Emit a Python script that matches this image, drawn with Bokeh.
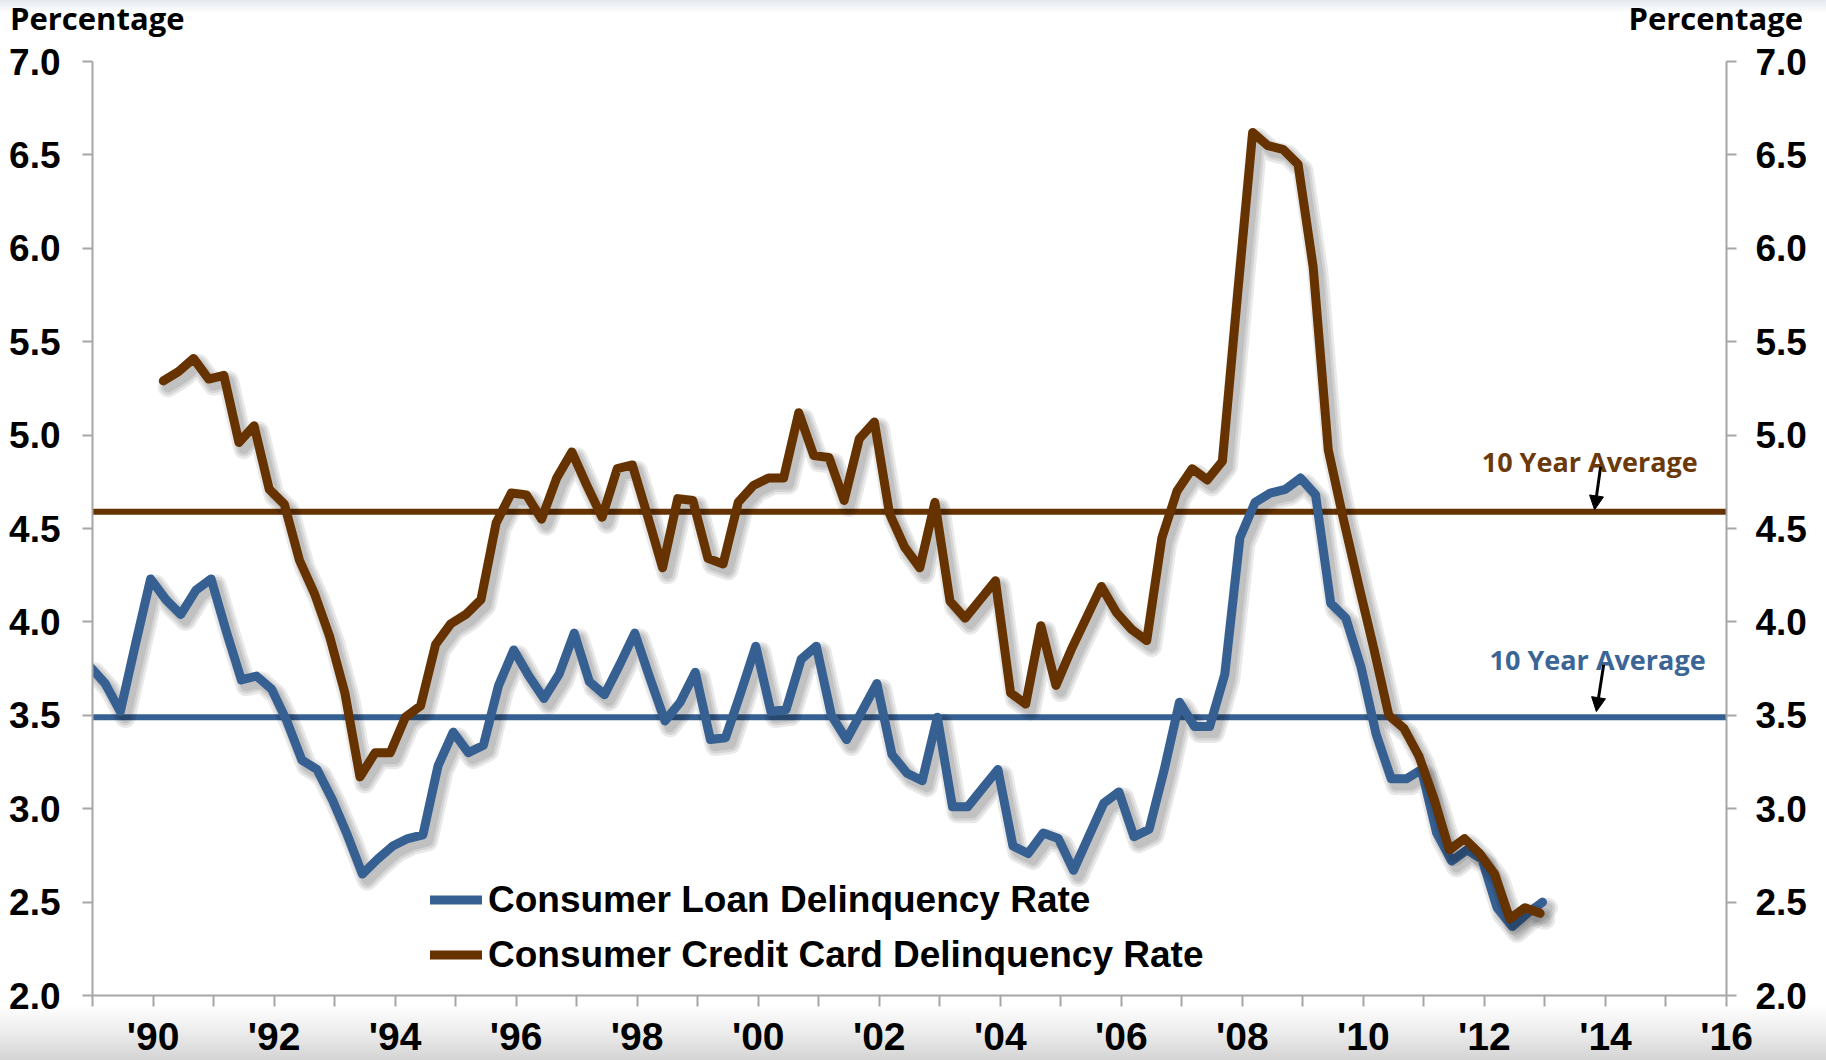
import numpy as np
from bokeh.plotting import figure
from bokeh.layouts import column
from bokeh.models import (Range1d, LinearAxis, FixedTicker, PrintfTickFormatter, Label,
                          Arrow, NormalHead, Legend, LegendItem, ColumnDataSource, Span, Div)
from bokeh.embed import file_html
from bokeh.resources import INLINE

# ---------------- data (quarterly) ----------------
loan_start = 1988.96
loan_rate = [
    3.76, 3.67, 3.52, 3.88,   # 1989
    4.23, 4.12, 4.04, 4.17,   # 1990
    4.23, 3.95, 3.69, 3.71,   # 1991
    3.64, 3.47, 3.26, 3.21,   # 1992
    3.05, 2.86, 2.65, 2.73,   # 1993
    2.80, 2.84, 2.86, 3.23,   # 1994
    3.41, 3.30, 3.34, 3.66,   # 1995
    3.85, 3.71, 3.59, 3.72,   # 1996
    3.94, 3.68, 3.61, 3.77,   # 1997
    3.94, 3.70, 3.47, 3.57,   # 1998
    3.73, 3.37, 3.38, 3.62,   # 1999
    3.87, 3.52, 3.53, 3.80,   # 2000
    3.87, 3.50, 3.37, 3.52,   # 2001
    3.67, 3.29, 3.19, 3.15,   # 2002
    3.49, 3.01, 3.01, 3.11,   # 2003
    3.21, 2.80, 2.76, 2.87,   # 2004
    2.84, 2.67, 2.85, 3.03,   # 2005
    3.09, 2.85, 2.89, 3.21,   # 2006
    3.57, 3.44, 3.44, 3.72,   # 2007
    4.45, 4.64, 4.69, 4.71,   # 2008
    4.77, 4.68, 4.10, 4.02,   # 2009
    3.76, 3.40, 3.16, 3.16,   # 2010
    3.21, 2.87, 2.72, 2.78,   # 2011
    2.73, 2.47, 2.37, 2.44,   # 2012
    2.50,                     # 2013
]

card_start = 1990.17
card_rate = [
    5.29, 5.34, 5.41,         # 1990 Q2-Q4
    5.30, 5.32, 4.96, 5.05,   # 1991
    4.71, 4.63, 4.33, 4.15,   # 1992
    3.92, 3.62, 3.17, 3.30,   # 1993
    3.30, 3.49, 3.55, 3.88,   # 1994
    3.99, 4.04, 4.12, 4.53,   # 1995
    4.69, 4.68, 4.55, 4.77,   # 1996
    4.91, 4.73, 4.56, 4.82,   # 1997
    4.84, 4.57, 4.29, 4.66,   # 1998
    4.65, 4.34, 4.31, 4.64,   # 1999
    4.73, 4.77, 4.77, 5.12,   # 2000
    4.89, 4.88, 4.65, 4.98,   # 2001
    5.07, 4.58, 4.40, 4.29,   # 2002
    4.64, 4.11, 4.02, 4.12,   # 2003
    4.22, 3.62, 3.56, 3.98,   # 2004
    3.66, 3.85, 4.02, 4.19,   # 2005
    4.05, 3.96, 3.90, 4.45,   # 2006
    4.70, 4.82, 4.76, 4.86,   # 2007
    5.75, 6.62, 6.55, 6.53,   # 2008
    6.45, 5.90, 4.92, 4.55,   # 2009
    4.20, 3.86, 3.50, 3.43,   # 2010
    3.28, 3.05, 2.78, 2.84,   # 2011
    2.76, 2.65, 2.41, 2.47,   # 2012
    2.44,                     # 2013
]

loan_avg = 3.49   # 10 year average, consumer loans
card_avg = 4.59   # 10 year average, credit cards

series_labels = ["Consumer Loan Delinquency Rate", "Consumer Credit Card Delinquency Rate"]
avg_label = "10 Year Average"
axis_title = "Percentage"
year_ticks = list(range(1989, 2017))
y_ticks = [2.0, 2.5, 3.0, 3.5, 4.0, 4.5, 5.0, 5.5, 6.0, 6.5, 7.0]

BLUE = "#376092"
BROWN = "#663300"
AXIS_GRAY = "#A6A6A6"

loan_x = loan_start + 0.25 * np.arange(len(loan_rate))
card_x = card_start + 0.25 * np.arange(len(card_rate))

W, H = 1826, 1060
HEAD_H = 41

# ---------------- header with the two axis titles ----------------
span_css = ("position:absolute;top:0px;line-height:36px;white-space:nowrap;"
            "font-family:'Open Sans';font-weight:bold;font-size:31px;color:black;")
head = Div(
    text=('<div style="position:relative;width:%dpx;height:%dpx;'
          'background:linear-gradient(to bottom,#e4e8ee 0px,#ffffff 13px);">'
          '<span style="%sleft:10px;">%s</span>'
          '<span style="%sright:23px;">%s</span></div>')
         % (W, HEAD_H, span_css, axis_title, span_css, axis_title),
    width=W, height=HEAD_H, styles={"margin": "0", "padding": "0"})

# ---------------- main chart ----------------
p = figure(width=W, height=H - HEAD_H, output_backend="svg", toolbar_location=None,
           x_range=Range1d(1989, 2016), y_range=Range1d(2.0, 7.0),
           min_border_left=92, min_border_right=100, min_border_top=61 - HEAD_H,
           min_border_bottom=64)
p.grid.visible = False
p.outline_line_color = None
p.background_fill_color = "white"
p.border_fill_alpha = 0
p.styles = {"background": "linear-gradient(to bottom, #ffffff 0px, #ffffff %dpx, "
                          "#ececec %dpx, #d4d4d4 %dpx)" % (1005 - HEAD_H, 1032 - HEAD_H, H - HEAD_H)}

xax = p.xaxis[0]
xax.ticker = FixedTicker(ticks=year_ticks)
xax.major_label_overrides = {y: ("'%02d" % (y % 100) if y % 2 == 0 else "") for y in year_ticks}
xax.major_label_text_font = "'Liberation Sans Narrow', 'Liberation Sans'"
xax.major_label_text_font_style = "bold"
xax.major_label_text_font_size = "39px"
xax.major_label_text_color = "black"
xax.major_label_standoff = 8

yax = p.yaxis[0]
yax_r = LinearAxis()
p.add_layout(yax_r, "right")
for ax, so in ((yax, 22), (yax_r, 19)):
    ax.ticker = FixedTicker(ticks=y_ticks)
    ax.formatter = PrintfTickFormatter(format="%.1f")
    ax.major_label_standoff = so
    ax.major_label_text_font = "Liberation Sans"
    ax.major_label_text_font_style = "bold"
    ax.major_label_text_font_size = "37px"
    ax.major_label_text_color = "black"

for ax in (xax, yax, yax_r):
    ax.axis_line_color = AXIS_GRAY
    ax.axis_line_width = 2
    ax.major_tick_line_color = AXIS_GRAY
    ax.major_tick_line_width = 2
    ax.major_tick_out = 10
    ax.major_tick_in = 0
    ax.minor_tick_line_color = None
xax.major_tick_out = 11

# average lines
p.add_layout(Span(location=card_avg, dimension="width", line_color=BROWN, line_width=6, level="underlay"))
p.add_layout(Span(location=loan_avg, dimension="width", line_color=BLUE, line_width=6, level="underlay"))

# series with soft drop shadow
loan_src = ColumnDataSource(dict(x=loan_x, y=loan_rate))
card_src = ColumnDataSource(dict(x=card_x, y=card_rate))
sdx, sdy = 0.08, -0.032
rends = []
for src, col in ((loan_src, BLUE), (card_src, BROWN)):
    sh = ColumnDataSource(dict(x=np.array(src.data["x"]) + sdx, y=np.array(src.data["y"]) + sdy))
    for w in (21, 16, 11):
        p.line("x", "y", source=sh, line_color="black", line_alpha=0.085, line_width=w,
               line_join="round", line_cap="round")
    rends.append(p.line("x", "y", source=src, line_color=col, line_width=9,
                        line_join="round", line_cap="round"))

legend = Legend(items=[LegendItem(label=series_labels[0], renderers=[rends[0]]),
                       LegendItem(label=series_labels[1], renderers=[rends[1]])],
                location=(338, 19), orientation="vertical",
                glyph_width=52, glyph_height=43, label_height=43, label_standoff=6,
                spacing=12, padding=0, margin=0,
                border_line_alpha=0, background_fill_alpha=0,
                label_text_font="Liberation Sans", label_text_font_style="bold",
                label_text_font_size="37px", label_text_color="black")
p.add_layout(legend)

# 10-year average annotations
p.add_layout(Label(x=2013.74, y=4.86, text=avg_label, text_font="Open Sans",
                   text_font_style="bold", text_font_size="27px", text_color="#6B3A0C",
                   text_align="center", text_baseline="alphabetic"))
p.add_layout(Label(x=2013.87, y=3.80, text=avg_label, text_font="Open Sans",
                   text_font_style="bold", text_font_size="27px", text_color="#3A6596",
                   text_align="center", text_baseline="alphabetic"))
p.add_layout(Arrow(end=NormalHead(size=14, fill_color="black", line_color="black"),
                   x_start=2013.92, y_start=4.83, x_end=2013.82, y_end=4.60,
                   line_color="black", line_width=3))
p.add_layout(Arrow(end=NormalHead(size=14, fill_color="black", line_color="black"),
                   x_start=2013.97, y_start=3.77, x_end=2013.85, y_end=3.52,
                   line_color="black", line_width=3))

layout = column(head, p, spacing=0)
open("out.html", "w").write(file_html(layout, INLINE))
